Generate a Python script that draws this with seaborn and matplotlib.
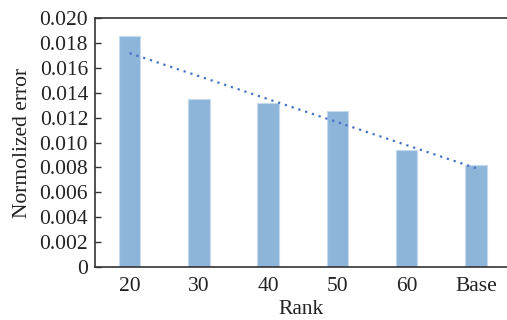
import numpy as np
import pandas as pd
import matplotlib
matplotlib.use("Agg")
import matplotlib.pyplot as plt
import seaborn as sns

categories = ["20", "30", "40", "50", "60", "Base"]
errors = [0.01855, 0.01347, 0.0132, 0.01253, 0.0094, 0.0082]
yticks = [0, 0.002, 0.004, 0.006, 0.008, 0.010, 0.012, 0.014, 0.016, 0.018, 0.020]
ytick_labels = ["0", "0.002", "0.004", "0.006", "0.008", "0.010", "0.012",
                "0.014", "0.016", "0.018", "0.020"]

sns.set_style("white")
plt.rcParams['font.family'] = ['Liberation Serif', 'DejaVu Serif']

df = pd.DataFrame({"Rank": categories, "Error": errors})

fig = plt.figure(figsize=(5.07, 3.2), dpi=100)
ax = fig.add_axes([95/507, 1-267/320, 1-95/507, (267-18)/320])

sns.barplot(data=df, x="Rank", y="Error", ax=ax, color="#8DB4D9",
            width=0.31, edgecolor="#C5DAEE", linewidth=0.8, saturation=1)

xs = np.arange(len(categories))
coef = np.polyfit(xs, errors, 1)
ax.plot(xs, np.polyval(coef, xs), linestyle=(0, (1, 2.2)), color="#4472C4",
        linewidth=1.6)

fs = 15.5
ax.set_xlim(-0.5, 5.45)
ax.set_ylim(0, 0.020)
ax.set_yticks(yticks)
ax.set_yticklabels(ytick_labels, fontsize=fs)
ax.tick_params(axis='y', direction='in', length=4, width=1, colors='#333333',
               labelcolor='#222222', pad=5, left=True)
ax.tick_params(axis='x', length=0, labelsize=fs, labelcolor='#222222', pad=7)
ax.set_xlabel("Rank", fontsize=fs, labelpad=3, color='#222222')
ax.set_ylabel("Normolized error", fontsize=fs, labelpad=5, color='#222222')
for s in ["left", "bottom", "top"]:
    ax.spines[s].set_visible(True)
    ax.spines[s].set_color("#333333")
    ax.spines[s].set_linewidth(1.2)
ax.spines["right"].set_visible(False)

fig.savefig("out.png", dpi=100)
